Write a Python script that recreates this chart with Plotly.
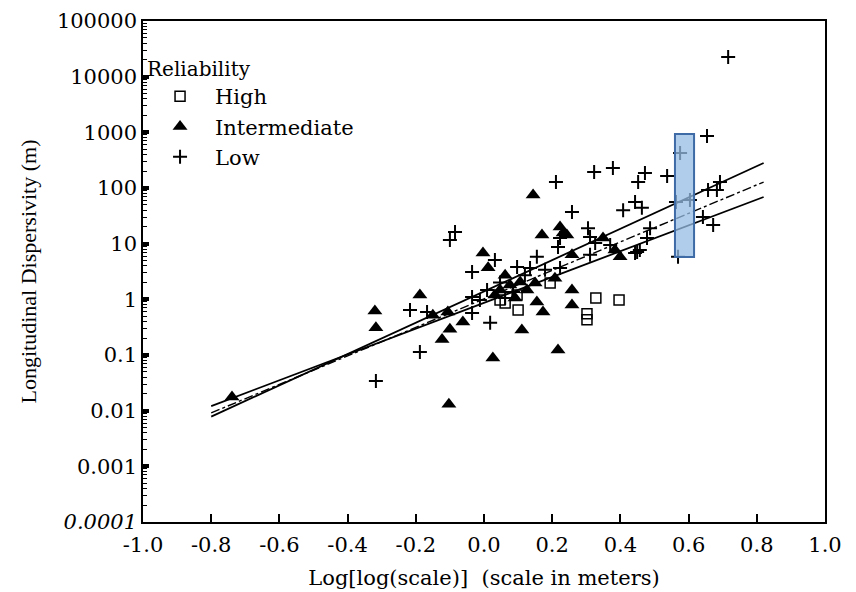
import numpy as np
import plotly.graph_objects as go

# --- data ---
# Reliability: High (open squares)
high_x = [0.194, 0.097, 0.062, 0.100, 0.328, 0.396, 0.302, 0.302, 0.047]
high_y = [1.97, 1.2, 0.86, 0.64, 1.06, 0.97, 0.55, 0.43, 0.97]

# Reliability: Intermediate (filled triangles)
inter_x = [0.144, 0.170, 0.223, 0.232, 0.258, 0.349, 0.384, 0.399, -0.003, 0.012,
           -0.188, -0.320, -0.317, -0.150, -0.106, -0.062, -0.100, -0.123, -0.103, 0.026,
           -0.739, 0.258, 0.258, 0.155, 0.173, 0.111, 0.217, 0.047, 0.076, 0.032,
           0.106, 0.150, 0.208, 0.243, 0.062, 0.126, 0.091]
inter_y = [75, 14.3, 20, 15.6, 6.3, 12.6, 7.7, 5.8, 6.8, 3.7,
           1.2, 0.62, 0.31, 0.52, 0.59, 0.39, 0.29, 0.19, 0.013, 0.088,
           0.0176, 1.47, 0.79, 0.9, 0.59, 0.28, 0.123, 1.47, 1.8, 1.2,
           2.05, 1.97, 2.4, 14.3, 2.7, 1.47, 1.06]

# Reliability: Low (plus signs)
low_x = [0.716, 0.654, 0.575, 0.323, 0.378, 0.211, 0.472, 0.452, 0.537, 0.258,
         0.408, 0.443, 0.463, 0.487, 0.478, 0.457, 0.443, 0.563, 0.569, 0.604,
         0.657, 0.692, 0.683, 0.642, 0.672, -0.085, -0.100, 0.032, -0.035, 0.223,
         0.217, 0.155, 0.305, 0.311, 0.326, 0.311, 0.449, 0.097, -0.217, -0.167,
         -0.035, -0.035, 0.018, -0.188, -0.317, 0.370, 0.047, 0.085, 0.120, 0.179,
         0.062, 0.135, 0.223, 0.009, -0.012]
low_y = [22500, 860, 425, 194, 229, 128, 186, 128, 164, 37,
         40, 56, 44, 19, 12.6, 7.7, 6.8, 56, 5.8, 61,
         92, 128, 92, 30, 21.7, 16.2, 11.6, 5.1, 3.1, 12.6,
         8.7, 5.8, 19, 13.2, 10.3, 6.3, 7.1, 3.8, 0.64, 0.59,
         1.1, 0.57, 0.38, 0.113, 0.034, 9.5, 2.0, 1.36, 2.7, 3.4,
         1.06, 3.66, 3.66, 1.47, 0.97]

# regression lines (end points)
fit_x = [-0.80, 0.82]
fit_steep_y = [0.0078, 281]
fit_mid_y = [0.0091, 128]
fit_flat_y = [0.0121, 69]

# highlighted column
box_x = [0.560, 0.616]
box_y = [5.77, 933]

xtick_vals = [-1.0, -0.8, -0.6, -0.4, -0.2, 0.0, 0.2, 0.4, 0.6, 0.8, 1.0]
xtick_text = ["-1.0", "-0.8", "-0.6", "-0.4", "-0.2", "0.0", "0.2", "0.4", "0.6", "0.8", "1.0"]
ytick_vals = [1e-4, 1e-3, 1e-2, 1e-1, 1, 10, 100, 1000, 10000, 100000]
ytick_text = ["<i>0.0001</i>", "0.001", "0.01", "0.1", "1", "10", "100", "1000", "10000", "100000"]
yminor_vals = [m * d for d in ytick_vals[:-1] for m in range(2, 10)]

FONT_H = "DejaVu Serif, serif"
FONT_V = "Liberation Serif, Times New Roman, serif"

fig = go.Figure()

fig.add_trace(go.Scatter(x=fit_x, y=fit_steep_y, mode="lines", showlegend=False,
                         line=dict(color="black", width=1.8)))
fig.add_trace(go.Scatter(x=fit_x, y=fit_mid_y, mode="lines", showlegend=False,
                         line=dict(color="black", width=1.4, dash="dashdot")))
fig.add_trace(go.Scatter(x=fit_x, y=fit_flat_y, mode="lines", showlegend=False,
                         line=dict(color="black", width=1.8)))

fig.add_trace(go.Scatter(x=high_x, y=high_y, mode="markers", name="High",
                         marker=dict(symbol="square-open", size=10, color="black",
                                     line=dict(width=1.5, color="black"))))
fig.add_trace(go.Scatter(x=inter_x, y=inter_y, mode="markers", name="Intermediate",
                         marker=dict(symbol="triangle-up", size=13, color="black")))
fig.add_trace(go.Scatter(x=low_x, y=low_y, mode="markers", name="Low",
                         marker=dict(symbol="cross-thin-open", size=10, color="black",
                                     line=dict(width=2, color="black"))))

fig.add_shape(type="rect", xref="x", yref="y",
              x0=box_x[0], x1=box_x[1], y0=box_y[0], y1=box_y[1],
              fillcolor="rgba(150,190,228,0.75)",
              line=dict(color="#3e6aa6", width=2), layer="above")

# page body adds an 8px margin, so the figure is 8px smaller than the window
fig.update_layout(
    width=848, height=584,
    margin=dict(l=135, r=31, t=13, b=70, autoexpand=False),
    paper_bgcolor="white", plot_bgcolor="white",
    font=dict(family=FONT_H, size=21, color="black"),
    legend=dict(x=0.003, y=0.942, xanchor="left", yanchor="top",
                bgcolor="rgba(0,0,0,0)", font=dict(size=21),
                title=dict(text="Reliability", font=dict(size=20)),
                itemwidth=60, tracegroupgap=0),
)

fig.update_xaxes(range=[-1, 1], tickmode="array", tickvals=xtick_vals, ticktext=xtick_text,
                 showline=True, linecolor="black", linewidth=1.5, mirror=True,
                 ticks="inside", ticklen=8, tickcolor="black", tickwidth=1.5,
                 ticklabelstandoff=3,
                 showgrid=False, zeroline=False, automargin=False,
                 title=dict(text="Log[log(scale)]  (scale in meters)", standoff=14,
                            font=dict(size=21)),
                 tickfont=dict(size=21))
fig.update_yaxes(type="log", range=[-4, 5], tickmode="array", tickvals=ytick_vals, ticktext=ytick_text,
                 showline=True, linecolor="black", linewidth=1.5, mirror=True,
                 ticks="inside", ticklen=6, tickcolor="black", tickwidth=4,
                 minor=dict(tickmode="array", tickvals=yminor_vals, ticks="inside",
                            ticklen=4, tickcolor="black", tickwidth=1),
                 showgrid=False, zeroline=False, automargin=False,
                 title=dict(text="Longitudinal Dispersivity (m)", standoff=14,
                            font=dict(family=FONT_V, size=22)),
                 tickfont=dict(size=21))

fig.write_html("out.html")
